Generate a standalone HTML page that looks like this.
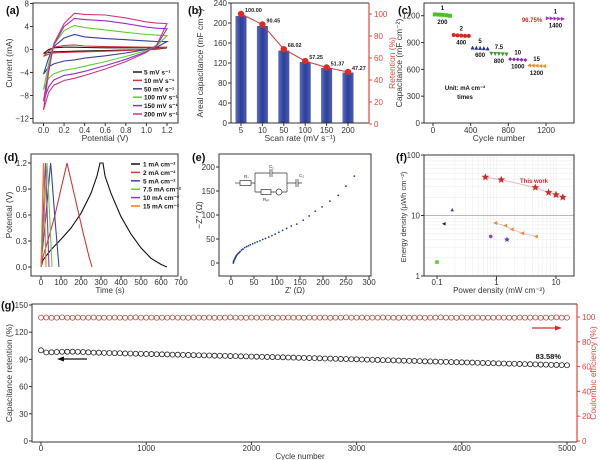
<!DOCTYPE html>
<html><head><meta charset="utf-8"><style>
html,body{margin:0;padding:0;background:#fff;}
svg{display:block;font-family:"Liberation Sans",sans-serif;}
</style></head><body>
<svg id="fig" width="600" height="460" viewBox="0 0 600 460" xmlns="http://www.w3.org/2000/svg">
<defs><linearGradient id="barg" x1="0" x2="1" y1="0" y2="0"><stop offset="0" stop-color="#5a6cc0"/><stop offset="0.5" stop-color="#2c3f98"/><stop offset="1" stop-color="#4a5cb2"/></linearGradient></defs>
</svg>
<script>
// ---------- DATA ----------
// (a) CV curves
const cvPot = [0,0.05,0.1,0.2,0.3,0.4,0.6,0.8,1.0,1.1,1.2];
const cvLabels = ["5 mV s\u207B\u00B9","10 mV s\u207B\u00B9","50 mV s\u207B\u00B9","100 mV s\u207B\u00B9","150 mV s\u207B\u00B9","200 mV s\u207B\u00B9"];
const cvUp5 = [-0.7,0,0.3,0.4,0.4,0.35,0.3,0.3,0.3,0.3,0.3];
const cvLo5 = [-0.7,-0.5,-0.4,-0.35,-0.3,-0.25,-0.2,-0.1,0,0.05,0.3];
const cvUp10 = [-1.2,-0.3,0.4,0.7,0.8,0.6,0.5,0.45,0.4,0.4,0.4];
const cvLo10 = [-1.2,-0.8,-0.6,-0.5,-0.45,-0.4,-0.3,-0.2,0,0.1,0.4];
const cvUp50 = [-4.3,-1.5,0.5,2.0,2.6,2.2,1.9,1.7,1.5,1.4,1.4];
const cvLo50 = [-4.3,-3.0,-2.5,-2.0,-1.8,-1.5,-1.1,-0.6,0,0.4,1.4];
const cvUp100 = [-7,-2.5,0.8,3.3,4.2,3.8,3.4,3.0,2.6,2.5,2.4];
const cvLo100 = [-7,-5,-4.2,-3.6,-3.3,-2.9,-2.1,-1.2,-0.2,0.6,2.4];
const cvUp150 = [-9,-3.5,0.8,4,5.4,5.2,5,4.5,3.9,3.7,3.6];
const cvLo150 = [-9,-6.5,-5.3,-4.5,-4.2,-3.8,-2.8,-1.7,-0.4,0.7,3.6];
const cvUp200 = [-10.5,-4,1,4.5,6.3,6.1,6.0,5.5,4.8,4.6,4.5];
const cvLo200 = [-10.5,-7.5,-6.2,-5.4,-5.0,-4.5,-3.4,-2.1,-0.5,0.8,4.5];
// (b)
const scanRates = ["5","10","50","100","150","200"];
const arealCap = [214,194,145,122,110,101];
const retention = [100,90.45,68.02,57.25,51.37,47.27];
const retLabels = ["100.00","90.45","68.02","57.25","51.37","47.27"];
// (c)
const rateCycles = [20,60,100,140,180, 220,260,300,340,380, 420,460,500,540,580, 620,660,700,740,780, 820,860,900,940,980, 1020,1060,1100,1140,1180, 1220,1260,1300,1340,1380];
const rateCaps = [1215,1212,1210,1205,1200, 985,980,978,975,975, 845,842,840,838,835, 775,772,770,768,765, 715,712,710,708,705, 645,642,640,638,636, 1172,1170,1168,1166,1165];
const rateTop = ["1","2","5","7.5","10","15","1"];
const rateBot = ["200","400","600","800","1000","1200","1400"];
// (d) GCD
const gcdLabels = ["1 mA cm\u207B\u00B2","2 mA cm\u207B\u00B2","5 mA cm\u207B\u00B2","7.5 mA cm\u207B\u00B2","10 mA cm\u207B\u00B2","15 mA cm\u207B\u00B2"];
const gcdT1 = [0,10,50,100,150,200,250,280,295,310,320,350,400,450,500,550,600,630];
const gcdV1 = [0,0.08,0.2,0.32,0.45,0.62,0.85,1.05,1.2,1.2,1.05,0.85,0.58,0.38,0.22,0.1,0.03,0];
const gcdT2 = [0,10,40,70,100,120,130,150,180,210,240,255];
const gcdV2 = [0,0.12,0.35,0.6,0.9,1.1,1.2,1.0,0.7,0.4,0.12,0];
const gcdT5 = [0,5,25,48,52,70,90];
const gcdV5 = [0,0.15,0.6,1.2,1.1,0.55,0];
const gcdT7 = [0,4,16,30,33,44,55];
const gcdV7 = [0,0.15,0.6,1.2,1.1,0.55,0];
const gcdT10 = [0,3,11,22,24,32,40];
const gcdV10 = [0,0.15,0.6,1.2,1.1,0.55,0];
const gcdT15 = [0,2,6,12,13,19,25];
const gcdV15 = [0,0.15,0.6,1.2,1.1,0.55,0];
// (e) Nyquist
const zRe = [5,5.5,6,7,8,9,10,11,12,14,16,18,20,23,26,30,34,38,42,47,52,57,63,69,75,82,89,96,104,112,121,131,143,157,170,183,198,215,233,250,268];
const zIm = [0,2,4,6,8,10,12,14,16,18,20,22,24,27,29,32,34,36,38,40,42,44,46,49,51,54,57,60,64,68,72,77,81,89,98,108,117,129,141,160,181,204];
// (f) Ragone
const twPower = [0.65,1.2,4.5,7.5,10,13];
const twEnergy = [43,39,29,24,22,20];
const orPower = [0.95,1.4,1.8,2.7,4.6];
const orEnergy = [7.5,6.8,5.9,5.1,4.5];
const otherPower = [0.1,0.18,0.13,0.8,1.5];
const otherEnergy = [1.7,12.5,7.3,4.5,4.0];
// (g) cycling (every 50 cycles)
const cycRet = [100,97.6,97.8,98.2,98.4,98.5,98.5,98.4,98.2,97.8,97.5,97.4,97.2,97.1,96.9,96.8,96.6,96.5,96.3,96.2,96.0,95.9,95.7,95.6,95.5,95.3,95.2,95.0,94.9,94.7,94.6,94.4,94.3,94.1,94.0,93.9,93.7,93.6,93.4,93.3,93.1,93.0,92.8,92.7,92.6,92.4,92.3,92.1,92.0,91.8,91.7,91.5,91.4,91.2,91.0,90.9,90.7,90.5,90.4,90.2,90.1,89.9,89.7,89.6,89.4,89.2,89.1,88.9,88.7,88.6,88.4,88.3,88.1,87.9,87.8,87.6,87.4,87.3,87.1,86.9,86.8,86.6,86.5,86.3,86.1,86.0,85.8,85.6,85.5,85.3,85.2,85.0,84.8,84.7,84.5,84.3,84.2,84.0,83.9,83.7,83.58];
const cycCE = [99.5,99.6,99.4,99.5,99.7,99.5,99.4,99.6,99.5,99.5,99.6,99.4,99.5,99.5,99.6,99.5,99.4,99.5,99.7,99.5,99.5,99.6,99.4,99.5,99.5,99.6,99.5,99.5,99.4,99.6,99.5,99.5,99.6,99.4,99.5,99.5,99.7,99.5,99.5,99.4,99.6,99.5,99.5,99.6,99.4,99.5,99.5,99.6,99.5,99.5,99.4,99.6,99.5,99.5,99.6,99.4,99.5,99.5,99.7,99.5,99.5,99.6,99.4,99.5,99.5,99.6,99.5,99.5,99.4,99.6,99.5,99.5,99.6,99.4,99.5,99.5,99.7,99.5,99.5,99.4,99.6,99.5,99.5,99.6,99.4,99.5,99.5,99.6,99.5,99.5,99.4,99.6,99.5,99.5,99.6,99.4,99.5,99.5,99.7,99.5,99.5];
const cycStep = 50;

// ---------- HELPERS ----------
const NS="http://www.w3.org/2000/svg";
const svg=document.getElementById('fig');
function el(tag,a,p){const e=document.createElementNS(NS,tag);for(const k in a)e.setAttribute(k,a[k]);(p||svg).appendChild(e);return e;}
function nm(e,n){


return e;}
function txt(x,y,s,o,n){const t=el('text',Object.assign({x:x,y:y,'font-size':8,fill:'#333'},o||{}));t.textContent=s;nm(t,n);return t;}
function box(x0,y0,x1,y1,n){const r=el('rect',{x:x0,y:y0,width:x1-x0,height:y1-y0,fill:'none',stroke:'#333','stroke-width':1});nm(r,n);}
function yTicks(vals,fy,x0,n,col,right,fmt){col=col||'#333';vals.forEach(v=>{const y=fy(v);const l=el('line',{x1:right?x0:x0-3,x2:right?x0+3:x0,y1:y,y2:y,stroke:col,'stroke-width':1});nm(l,n+'-tick');txt(right?x0+5:x0-4,y+3,fmt?fmt(v):String(v),{'text-anchor':right?'start':'end',fill:col},n+'-label');});}
function xTicks(vals,fx,y0,n,fmt,off){off=off||10;vals.forEach(v=>{const x=fx(v);const l=el('line',{x1:x,x2:x,y1:y0,y2:y0+3,stroke:'#333','stroke-width':1});nm(l,n+'-tick');txt(x,y0+off,fmt?fmt(v):String(v),{'text-anchor':'middle'},n+'-label');});}
function ytitle(x,y,s,n,col,fs){const t=txt(x,y,s,{'text-anchor':'middle','font-size':fs||8.5,fill:col||'#333',transform:`rotate(-90 ${x} ${y})`},n);}
function pl(xs,ys,fx,fy,col,n,w){const d=xs.map((v,i)=>(i?'L':'M')+fx(v).toFixed(1)+' '+fy(ys[i]).toFixed(1)).join(' ');const p=el('path',{d:d,fill:'none',stroke:col,'stroke-width':w||1.1});nm(p,n);return p;}
function marker(shape,x,y,s,col,n){let e;
 if(shape==='sq')e=el('rect',{x:x-s,y:y-s,width:2*s,height:2*s,fill:col});
 else if(shape==='ci')e=el('circle',{cx:x,cy:y,r:s,fill:col});
 else if(shape==='tu')e=el('polygon',{points:`${x},${y-s} ${x-s},${y+s} ${x+s},${y+s}`,fill:col});
 else if(shape==='td')e=el('polygon',{points:`${x},${y+s} ${x-s},${y-s} ${x+s},${y-s}`,fill:col});
 else if(shape==='di')e=el('polygon',{points:`${x},${y-s} ${x+s},${y} ${x},${y+s} ${x-s},${y}`,fill:col});
 else if(shape==='tl')e=el('polygon',{points:`${x-s},${y} ${x+s},${y-s} ${x+s},${y+s}`,fill:col});
 else if(shape==='tr')e=el('polygon',{points:`${x+s},${y} ${x-s},${y-s} ${x-s},${y+s}`,fill:col});
 else {let pts=[];for(let k=0;k<10;k++){const r=k%2?s*0.45:s;const a=-Math.PI/2+k*Math.PI/5;pts.push((x+r*Math.cos(a)).toFixed(1)+','+(y+r*Math.sin(a)).toFixed(1));}e=el('polygon',{points:pts.join(' '),fill:col});}
 nm(e,n);return e;}
function plabel(x,y,s,n){txt(x,y,s,{'font-size':11,'font-weight':'bold',fill:'#111'},n);}

// ---------- (a) ----------
plabel(6,14,'(a)','panel-a-label');
const xa=v=>43.5+v*(123.5/1.2), ya=v=>3.5+(8-v)*115/20;
const cvCols=['#1a1a1a','#c8383a','#3a3f9a','#5ccf2a','#9a2ccf','#d0357a'];
const cvUp=[cvUp5,cvUp10,cvUp50,cvUp100,cvUp150,cvUp200], cvLo=[cvLo5,cvLo10,cvLo50,cvLo100,cvLo150,cvLo200];
cvUp.forEach((u,i)=>{const xs=cvPot.concat(cvPot.slice().reverse());const ys=u.concat(cvLo[i].slice().reverse());pl(xs,ys,xa,ya,cvCols[i],'cv-curve-'+cvLabels[i].split(' ')[0]+'mv');});
box(33,3,178,123,'plot-a-frame');
yTicks([8,4,0,-4,-8,-12],ya,33,'a-y',null,false,v=>v<0?'\u2212'+(-v):String(v));
xTicks([0,0.2,0.4,0.6,0.8,1.0,1.2],xa,123,'a-x',v=>v.toFixed(1));
ytitle(12,63,'Current (mA)','a-y-title');
txt(105,141,'Potential (V)',{'text-anchor':'middle','font-size':8.5},'a-x-title');
cvLabels.forEach((s,i)=>{const y=72+i*8.4;const l=el('line',{x1:133,x2:142,y1:y,y2:y,stroke:cvCols[i],'stroke-width':1.5});nm(l,'legend-a-swatch');txt(144,y+2.5,s,{'font-size':6.5,'font-weight':'bold',fill:'#111'},'legend-a-entry');});

// ---------- (b) ----------
plabel(188,14,'(b)','panel-b-label');
const xb=i=>241+i*21.4, yb=v=>123-v*0.5, yr=v=>124-v*1.1;
arealCap.forEach((v,i)=>{const r=el('rect',{x:xb(i)-5.5,y:yb(v),width:11,height:123-yb(v),fill:'url(#barg)'});nm(r,'bar-'+scanRates[i]+'mv');});
pl(retention.map((v,i)=>i),retention,xb,yr,'#d93a2b','retention-line',1);
retention.forEach((v,i)=>{marker('ci',xb(i),yr(v),3.2,'#e02a20','retention-point');txt(xb(i)+4,yr(v)-2,retLabels[i],{'font-size':5.5,'font-weight':'bold',fill:'#222'},'retention-value-label');});
const fb=el('path',{d:'M231 3 H369 M231 3 V123 H369',fill:'none',stroke:'#333','stroke-width':1});nm(fb,'plot-b-frame');
const rb=el('line',{x1:369,x2:369,y1:3,y2:123,stroke:'#e0463a','stroke-width':1.2});nm(rb,'b-right-axis');
yTicks([0,40,80,120,160,200,240],yb,231,'b-y');
yTicks([0,20,40,60,80,100],yr,369,'b-y2','#e0463a',true);
scanRates.forEach((s,i)=>{const l=el('line',{x1:xb(i),x2:xb(i),y1:123,y2:126,stroke:'#333'});nm(l,'b-x-tick');txt(xb(i),133,s,{'text-anchor':'middle'},'b-x-label');});
ytitle(203,63,'Areal capacitance (mF cm\u207B\u00B2)','b-y-title');
ytitle(395,63,'Retention (%)','b-y2-title','#e0463a');
txt(300,141,'Scan rate (mV s\u207B\u00B9)',{'text-anchor':'middle','font-size':8.5},'b-x-title');

// ---------- (c) ----------
plabel(398,14,'(c)','panel-c-label');
const xc=v=>433+v*(113/1200), yc=v=>123-v*0.0894;
const rShapes=['sq','ci','tu','td','di','tl','tr'], rCols=['#4cc02a','#d42a1e','#2a3090','#3a9a2a','#8a2ab8','#f08a20','#b42ac8'];
rateCycles.forEach((c,i)=>{const g=Math.floor(i/5);marker(rShapes[g],xc(c),yc(rateCaps[i]),2,rCols[g],'rate-point');});
rateTop.forEach((s,g)=>{const cx=xc(rateCycles[g*5+2]);const cy=yc(rateCaps[g*5+2]);txt(cx,cy-5,s,{'text-anchor':'middle','font-size':6,'font-weight':'bold',fill:'#111'},'rate-current-label');txt(cx,cy+9,rateBot[g],{'text-anchor':'middle','font-size':6,'font-weight':'bold',fill:'#111'},'rate-cycle-label');});
txt(532,22,'96.75%',{'text-anchor':'middle','font-size':6,'font-weight':'bold',fill:'#d42a1e'},'c-retention-note');
txt(465,90,'Unit: mA cm\u207B\u00B2',{'text-anchor':'middle','font-size':6,'font-weight':'bold',fill:'#111'},'c-unit-note');
txt(465,99,'times',{'text-anchor':'middle','font-size':6,'font-weight':'bold',fill:'#111'},'c-times-note');
box(424,3,574,123,'plot-c-frame');
yTicks([0,300,600,900,1200],yc,424,'c-y');
xTicks([0,400,800,1200],xc,123,'c-x');
ytitle(402,63,'Capacitance (mF cm\u207B\u00B2)','c-y-title');
txt(499,141,'Cycle number',{'text-anchor':'middle','font-size':8.5},'c-x-title');

// ---------- (d) ----------
plabel(4,161,'(d)','panel-d-label');
const xd=t=>41+t*0.2, yd=v=>267-v*(104/1.2);
const gCols=['#111','#c83a3a','#3a44a8','#6acc30','#8b3ac8','#f07a20'];
const gT=[gcdT1,gcdT2,gcdT5,gcdT7,gcdT10,gcdT15], gV=[gcdV1,gcdV2,gcdV5,gcdV7,gcdV10,gcdV15];
gT.forEach((t,i)=>pl(t,gV[i],xd,yd,gCols[i],'gcd-curve-'+i,1.1));
box(31,154,178,276,'plot-d-frame');
yTicks([0,0.3,0.6,0.9,1.2],yd,31,'d-y',null,false,v=>v.toFixed(1));
xTicks([0,100,200,300,400,500,600,700],xd,276,'d-x',null,9);
ytitle(12,215,'Potential (V)','d-y-title');
txt(110,293,'Time (s)',{'text-anchor':'middle','font-size':8},'d-x-title');
gcdLabels.forEach((s,i)=>{const y=164+i*8.4;const l=el('line',{x1:131,x2:140,y1:y,y2:y,stroke:gCols[i],'stroke-width':1.5});nm(l,'legend-d-swatch');txt(143,y+2.5,s,{'font-size':6.5,'font-weight':'bold',fill:'#111'},'legend-d-entry');});

// ---------- (e) ----------
plabel(192,161,'(e)','panel-e-label');
const xe=v=>231+v*0.46, ye=v=>263-v*0.48;
zRe.forEach((v,i)=>{const c=el('circle',{cx:xe(v),cy:ye(zIm[i]),r:0.9,fill:'#2a3a9a'});nm(c,'nyquist-point');});
box(219,154,371,276,'plot-e-frame');
yTicks([0,50,100,150,200],ye,219,'e-y');
xTicks([0,50,100,150,200,250,300],xe,276,'e-x',null,9);
ytitle(202,215,'\u2212Z\u2033 (\u03A9)','e-y-title');
txt(295,293,'Z\u2032 (\u03A9)',{'text-anchor':'middle','font-size':8},'e-x-title');
(function(){const g=el('g',{stroke:'#333','stroke-width':0.7,fill:'none'});nm(g,'equivalent-circuit');
const parts=['M235 183 H240','M251 183 H255 M255 173 V192','M255 173 H270 M272 173 H287','M270 169 V177 M272 169 V177','M255 192 H261 M271 192 H276 M282 192 H287 M287 173 V192','M287 183 H296 M298 183 H302','M296 179 V187 M298 179 V187'];
parts.forEach(d=>{const p=el('path',{d:d},g);nm(p,'circuit-wire');});
const r1=el('rect',{x:240,y:180.5,width:11,height:5},g);nm(r1,'resistor-rs');
const r2=el('rect',{x:261,y:189.5,width:10,height:5},g);nm(r2,'resistor-rct');
const w=el('circle',{cx:279,cy:192,r:3},g);nm(w,'warburg-element');
txt(244,178,'R\u209B',{'font-size':4.5},'label-rs');txt(269,168,'C\u2081',{'font-size':4.5},'label-c1');txt(299,177,'C\u2082',{'font-size':4.5},'label-c2');txt(263,201,'R\u2091\u209C',{'font-size':4.5},'label-rct');})();

// ---------- (f) ----------
plabel(396,161,'(f)','panel-f-label');
const xf=p=>437+(Math.log10(p)+1)*59.5, yf=e=>276-Math.log10(e)*60.5;
[0.2,0.3,0.4,0.5,0.6,0.7,0.8,0.9,1,2,3,4,5,6,7,8,9,10].forEach(p=>{const l=el('line',{x1:xf(p),x2:xf(p),y1:155,y2:276,stroke:'#eeeeee','stroke-width':0.6});nm(l,'f-grid-x');});
[2,3,4,5,6,7,8,9,20,30,40,50,60,70,80,90].forEach(e=>{const l=el('line',{x1:424,x2:574,y1:yf(e),y2:yf(e),stroke:'#eeeeee','stroke-width':0.6});nm(l,'f-grid-y');});
const g10=el('line',{x1:424,x2:574,y1:yf(10),y2:yf(10),stroke:'#bbb','stroke-width':0.9});nm(g10,'f-grid-major');
pl(twPower,twEnergy,xf,yf,'#e8b8c4','this-work-line',1);
twPower.forEach((p,i)=>marker('st',xf(p),yf(twEnergy[i]),4,'#d42a2a','this-work-point'));
pl(orPower,orEnergy,xf,yf,'#d8c0cc','ref-line',1);
orPower.forEach((p,i)=>marker('tl',xf(p),yf(orEnergy[i]),2,'#f08a30','ref-point'));
const oShapes=['sq','tu','tl','ci','st'], oCols=['#5ccf2a','#3a4aa8','#222','#a03ad0','#5a3ab0'];
otherPower.forEach((p,i)=>marker(oShapes[i],xf(p),yf(otherEnergy[i]),oShapes[i]==='st'?3:1.8,oCols[i],'literature-point'));
txt(534,183,'This work',{'text-anchor':'middle','font-size':6,'font-weight':'bold',fill:'#d42a2a'},'this-work-label');
box(424,155,574,276,'plot-f-frame');
yTicks([1,10,100],yf,424,'f-y');
xTicks([0.1,1,10],xf,276,'f-x',null,9);
ytitle(406,217,'Energy density (\u03BCWh cm\u207B\u00B2)','f-y-title',null,7.5);
txt(499,293,'Power density (mW cm\u207B\u00B2)',{'text-anchor':'middle','font-size':8},'f-x-title');

// ---------- (g) ----------
plabel(1,309,'(g)','panel-g-label');
const xg=c=>41+c*0.1052, yg=v=>441-v*(136/150), ycg=v=>441-v*1.24;
cycCE.forEach((v,i)=>{const c=el('circle',{cx:xg(i*cycStep),cy:ycg(v),r:2.5,fill:'none',stroke:'#c83a3a','stroke-width':0.8});nm(c,'coulombic-point');});
cycRet.forEach((v,i)=>{const c=el('circle',{cx:xg(i*cycStep),cy:yg(v),r:2.5,fill:'none',stroke:'#222','stroke-width':0.8});nm(c,'retention-cycle-point');});
const fg=el('path',{d:'M577 304 H32 V442 H577',fill:'none',stroke:'#333','stroke-width':1});nm(fg,'plot-g-frame');
const rg=el('line',{x1:577,x2:577,y1:304,y2:442,stroke:'#e0463a','stroke-width':1.2});nm(rg,'g-right-axis');
yTicks([0,30,60,90,120,150],yg,32,'g-y');
yTicks([0,20,40,60,80,100],ycg,577,'g-y2','#e0463a',true);
xTicks([0,1000,2000,3000,4000,5000],xg,442,'g-x',null,9);
ytitle(12,373,'Capacitance retention (%)','g-y-title');
ytitle(596,373,'Coulombic efficiency (%)','g-y2-title','#e0463a');
txt(300,459,'Cycle number',{'text-anchor':'middle','font-size':8},'g-x-title');
txt(561,359,'83.58%',{'text-anchor':'end','font-size':7.5,'font-weight':'bold',fill:'#111'},'final-retention-label');
const a1=el('path',{d:'M87 359 H62',stroke:'#111','stroke-width':1.2,fill:'none'});nm(a1,'left-axis-arrow');
const a1h=el('polygon',{points:'57,359 64,356.5 64,361.5',fill:'#111'});nm(a1h,'left-axis-arrowhead');
const a2=el('path',{d:'M532 328 H557',stroke:'#d42a2a','stroke-width':1.2,fill:'none'});nm(a2,'right-axis-arrow');
const a2h=el('polygon',{points:'562,328 555,325.5 555,330.5',fill:'#d42a2a'});nm(a2h,'right-axis-arrowhead');
</script>
</body></html>
